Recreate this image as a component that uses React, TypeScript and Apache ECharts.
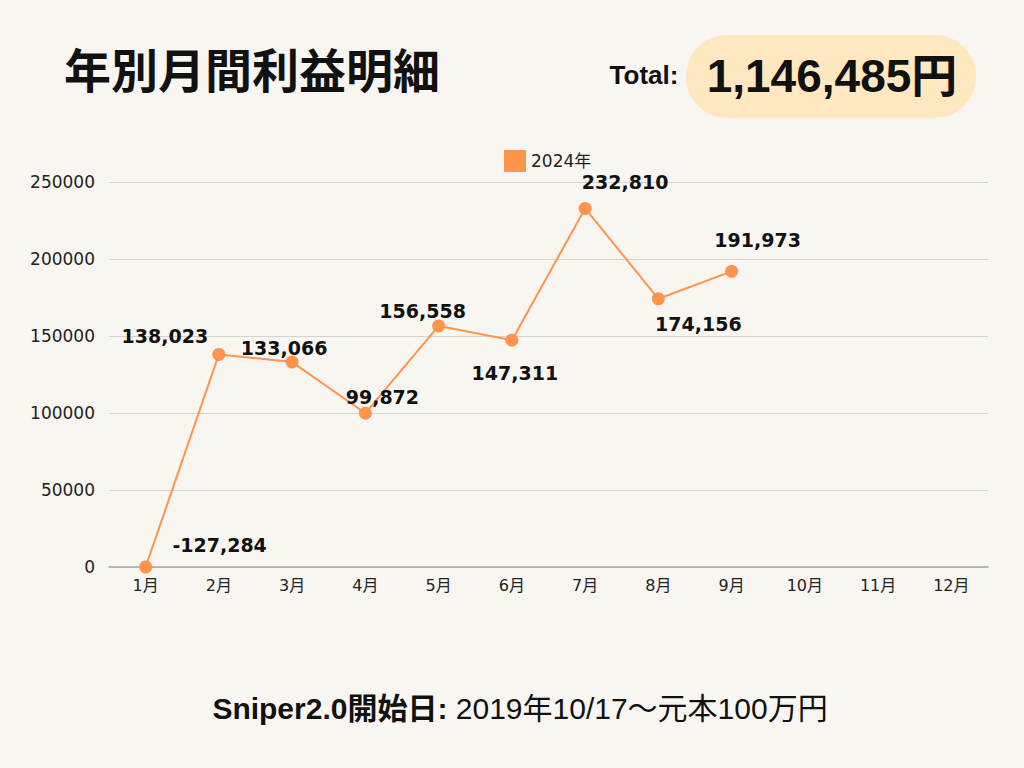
import React, { useEffect, useRef } from "react";
import * as echarts from "echarts";

const months = ["1月", "2月", "3月", "4月", "5月", "6月", "7月", "8月", "9月", "10月", "11月", "12月"];
const profit2024 = [-127284, 138023, 133066, 99872, 156558, 147311, 232810, 174156, 191973];
const yTicks = [0, 50000, 100000, 150000, 200000, 250000];
const seriesName = "2024年";
const titleText = "年別月間利益明細";
const totalLabel = "Total:";
const totalText = "1,146,485円";
const footerBold = "Sniper2.0開始日:";
const footerRest = " 2019年10/17〜元本100万円";
// label offsets in px (layout only)
const labelOffsets: [number, number][] = [
  [74, -22], [-54, -18], [-8, -14], [17, -16], [-16, -15], [3, 33], [40, -26], [40, 25], [26, -31],
];

const FONT = "'Liberation Sans', 'Noto Sans CJK JP', sans-serif";
const WIDE_FONT = "'DejaVu Sans', 'Noto Sans CJK JP', sans-serif";

export default function App() {
  const ref = useRef<HTMLDivElement>(null);
  useEffect(() => {
    document.body.style.margin = "0";
    const chart = echarts.init(ref.current!, null, { renderer: "svg" });
    const yMin = yTicks[0];
    const fmt = (v: number) => v.toLocaleString("en-US");
    const data = profit2024.map((v, i) => ({
      value: Math.max(v, yMin),
      raw: v,
      label: { offset: labelOffsets[i] },
    }));
    chart.setOption({
      animation: false,
      backgroundColor: "#f9f6f1",
      textStyle: { fontFamily: FONT },
      legend: {
        top: 145,
        left: 499,
        itemWidth: 22,
        itemHeight: 22,
        itemGap: 8,
        icon: "rect",
        textStyle: { fontSize: 17, color: "#222", fontFamily: WIDE_FONT },
        data: [{ name: seriesName, itemStyle: { color: "#ff944d" } }],
      },
      grid: { left: 109, right: 36, top: 182, bottom: 201, containLabel: false },
      xAxis: {
        type: "category",
        data: months,
        boundaryGap: true,
        axisLine: { lineStyle: { color: "#aaa", width: 1.5 } },
        axisTick: { show: false },
        axisLabel: { fontSize: 16, color: "#222", margin: 10, fontFamily: WIDE_FONT },
      },
      yAxis: {
        type: "value",
        min: yTicks[0],
        max: yTicks[yTicks.length - 1],
        interval: yTicks[1] - yTicks[0],
        axisLine: { show: false },
        axisTick: { show: false },
        axisLabel: {
          fontSize: 17,
          color: "#222",
          margin: 14,
          fontFamily: WIDE_FONT,
          formatter: (v: number) => String(v),
        },
        splitLine: { lineStyle: { color: "#d6d3ce", width: 1 } },
      },
      series: [
        {
          name: seriesName,
          type: "line",
          data,
          symbol: "circle",
          symbolSize: 13,
          itemStyle: { color: "#ff944d" },
          lineStyle: { color: "#ff944d", width: 2 },
          label: {
            show: true,
            position: "inside",
            color: "#111",
            fontSize: 19,
            fontWeight: "bold",
            fontFamily: WIDE_FONT,
            formatter: (p: any) => fmt(p.data.raw),
          },
          clip: false,
        },
      ],
      graphic: [
        {
          type: "text",
          left: 64,
          top: 48,
          style: { text: titleText, fontSize: 47, fontWeight: "bold", fill: "#111", fontFamily: FONT },
        },
        {
          type: "text",
          x: 644,
          y: 75,
          style: {
            text: totalLabel,
            fontSize: 26,
            fontWeight: "bold",
            fill: "#111",
            fontFamily: FONT,
            align: "center",
            verticalAlign: "middle",
          },
        },
        {
          type: "rect",
          shape: { x: 686, y: 35, width: 290, height: 83, r: 41 },
          style: { fill: "#ffe8bf" },
        },
        {
          type: "text",
          x: 832,
          y: 76,
          style: {
            text: totalText,
            fontSize: 46,
            fontWeight: "bold",
            fill: "#111",
            fontFamily: FONT,
            align: "center",
            verticalAlign: "middle",
          },
        },
        {
          type: "text",
          x: 520,
          y: 708,
          style: {
            text: `{b|${footerBold}}{r|${footerRest}}`,
            align: "center",
            verticalAlign: "middle",
            rich: {
              b: { fontSize: 30, fontWeight: "bold", fill: "#111", fontFamily: FONT },
              r: { fontSize: 30, fontWeight: "normal", fill: "#111", fontFamily: FONT },
            },
          },
        },
      ],
    });
    return () => chart.dispose();
  }, []);
  return <div ref={ref} style={{ width: 1024, height: 768 }} />;
}
